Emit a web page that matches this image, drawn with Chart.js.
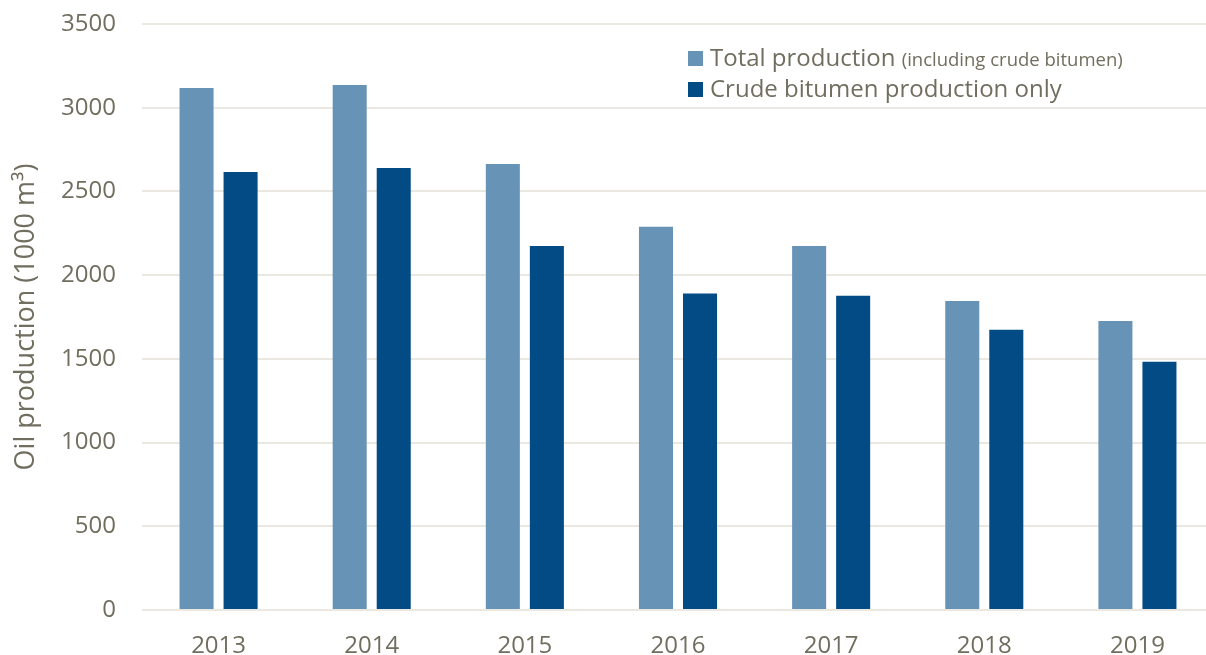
<!DOCTYPE html>
<html>
<head>
<meta charset="utf-8">
<script src="https://cdn.jsdelivr.net/npm/chart.js@4"></script>
<style>
  html, body { margin: 0; padding: 0; background: #fff; overflow: hidden; }
  #wrap { width: 1214px; height: 655px; position: relative; }
</style>
</head>
<body>
<div id="wrap"><canvas id="myChart"></canvas></div>
<script>
const years = ["2013", "2014", "2015", "2016", "2017", "2018", "2019"];
const totalProduction = [3118, 3136, 2664, 2289, 2174, 1846, 1726];
const bitumenProduction = [2616, 2640, 2174, 1891, 1877, 1674, 1483];
const seriesNames = ["Total production", "Crude bitumen production only"];
const seriesNotes = ["(including crude bitumen)", ""];
const seriesColors = ["#6793b7", "#024b84"];
const yTicks = [0, 500, 1000, 1500, 2000, 2500, 3000, 3500];

const textColor = "#716e5f";
const fontFamily = "'Open Sans', sans-serif";

// legend drawn by hand: big label followed by a smaller note
const customLegend = {
    id: "customLegend",
    afterDraw(chart) {
        const ctx = chart.ctx;
        ctx.save();
        chart.data.datasets.forEach((ds, i) => {
            const y = 51 + i * 31;
            ctx.fillStyle = ds.backgroundColor;
            ctx.fillRect(688, y, 15, 15);
            ctx.fillStyle = textColor;
            ctx.textBaseline = "alphabetic";
            ctx.font = "24px " + fontFamily;
            ctx.fillText(ds.label, 710, y + 15);
            const w = ctx.measureText(ds.label + " ").width;
            if (seriesNotes[i]) {
                ctx.font = "18.5px " + fontFamily;
                ctx.fillText(seriesNotes[i], 710 + w, y + 15);
            }
        });
        ctx.restore();
    }
};

const myChart = document.getElementById("myChart").getContext("2d");

new Chart(myChart, {
    type: "bar",
    data: {
        labels: years,
        datasets: [
            { label: seriesNames[0], data: totalProduction, backgroundColor: seriesColors[0] },
            { label: seriesNames[1], data: bitumenProduction, backgroundColor: seriesColors[1] }
        ]
    },
    options: {
        responsive: true,
        maintainAspectRatio: false,
        animation: false,
        layout: { padding: { top: 24, right: 0, left: 0, bottom: 0 } },
        datasets: {
            bar: { categoryPercentage: 0.575, barPercentage: 0.773 }
        },
        plugins: {
            legend: { display: false },
            tooltip: { enabled: false }
        },
        scales: {
            x: {
                grid: { display: false, drawTicks: false },
                border: { display: false },
                ticks: { color: textColor, font: { family: fontFamily, size: 24 }, padding: 22 },
                afterFit(scale) { scale.height = 45; }
            },
            y: {
                min: 0,
                max: 3500,
                afterBuildTicks(scale) { scale.ticks = yTicks.map(v => ({ value: v })); },
                grid: { color: "#ebe8e1", lineWidth: 2, drawTicks: false },
                border: { display: false },
                ticks: {
                    color: textColor,
                    font: { family: fontFamily, size: 24 },
                    padding: 26,
                    callback: v => String(v)
                },
                title: {
                    display: true,
                    text: "Oil production (1000 m³)",
                    color: textColor,
                    font: { family: fontFamily, size: 27 },
                    padding: { top: 10, bottom: 0 }
                },
                afterFit(scale) {
                    scale.width = 142;
                    scale.paddingTop = 0;
                    scale.paddingBottom = 0;
                }
            }
        }
    },
    plugins: [customLegend]
});
</script>
</body>
</html>
